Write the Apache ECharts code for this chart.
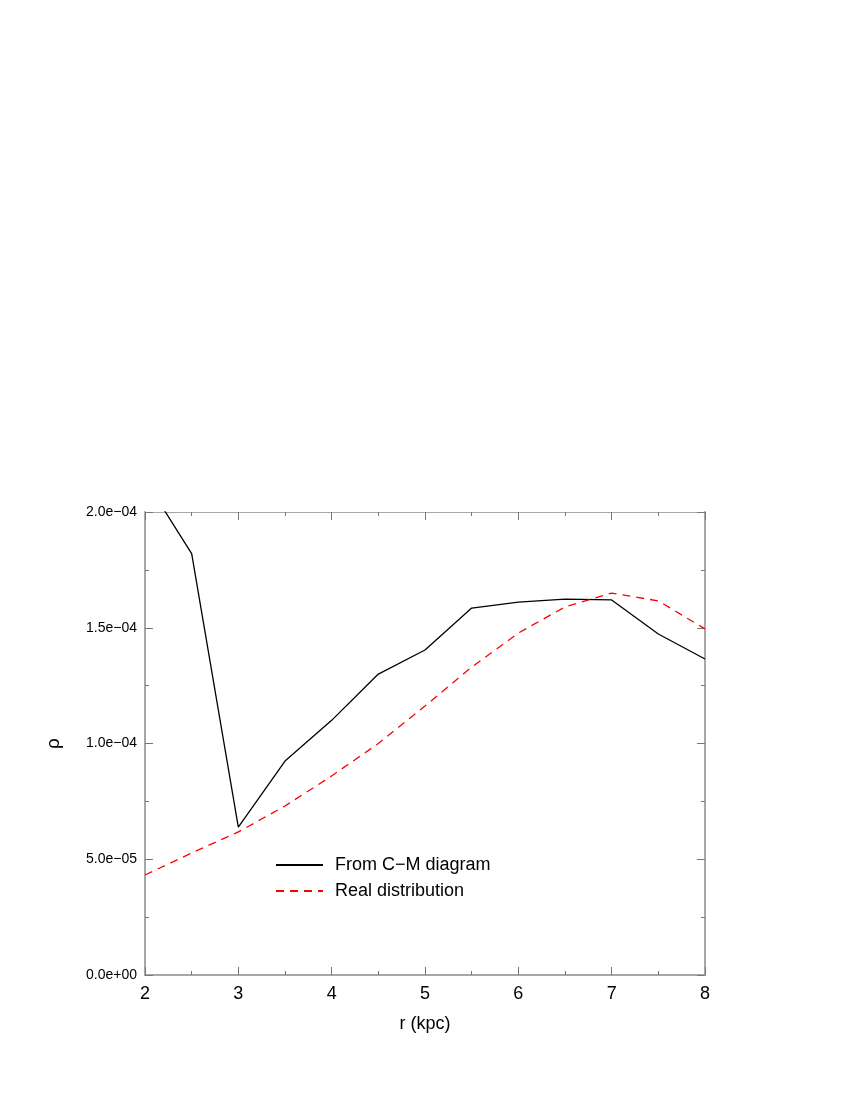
<!DOCTYPE html>
<html>
<head>
<meta charset="utf-8">
<script src="https://cdn.jsdelivr.net/npm/echarts@6/dist/echarts.min.js"></script>
<style>
  html, body { margin: 0; padding: 0; background: #fff; }
  #chart { width: 850px; height: 1100px; }
</style>
</head>
<body>
<div id="chart"></div>
<script>
// radius (kpc)
const radius = [2, 2.5, 3, 3.5, 4, 4.5, 5, 5.5, 6, 6.5, 7, 7.5, 8];
// density from the C-M diagram
const fromCM = [2.14e-4, 1.82e-4, 0.639e-4, 0.924e-4, 1.10e-4, 1.30e-4, 1.404e-4,
  1.585e-4, 1.611e-4, 1.624e-4, 1.62e-4, 1.473e-4, 1.365e-4];
// real distribution
const realDist = [0.432e-4, 0.527e-4, 0.618e-4, 0.73e-4, 0.86e-4, 1.0e-4, 1.162e-4,
  1.33e-4, 1.477e-4, 1.59e-4, 1.65e-4, 1.616e-4, 1.495e-4];

const chart = echarts.init(document.getElementById('chart'));

const font = 'Liberation Sans, Arial, sans-serif';
const axisGrey = '#a8a8a8';

const fmtExp = function (v) {
  let s = Number(v).toExponential(1);
  const m = s.match(/^(.*)e([+-])(\d+)$/);
  if (!m) return s;
  let exp = m[3].length < 2 ? '0' + m[3] : m[3];
  return m[1] + 'e' + (m[2] === '-' ? '\u2212' : '+') + exp;
};

const pairs = function (ys) {
  return radius.map(function (x, i) { return [x, ys[i]]; });
};

const option = {
  backgroundColor: '#fff',
  animation: false,
  textStyle: { fontFamily: font },
  grid: { left: 145, right: 145, top: 512, bottom: 125 },
  legend: {
    left: 270,
    top: 851,
    orient: 'vertical',
    itemWidth: 47,
    itemHeight: 14,
    itemGap: 8,
    itemStyle: { opacity: 0 },
    textStyle: { fontSize: 18, color: '#000', fontFamily: font, padding: [0, 0, 0, 7] },
    data: ['From C\u2212M diagram', 'Real distribution']
  },
  xAxis: [
    {
      type: 'value',
      min: 2, max: 8, interval: 1,
      name: 'r (kpc)',
      nameLocation: 'middle',
      nameGap: 40,
      nameTextStyle: { fontSize: 18, color: '#000', fontFamily: font },
      axisLine: { lineStyle: { color: axisGrey, width: 2 } },
      axisTick: { inside: true, length: 8, lineStyle: { color: '#777' } },
      minorTick: { show: true, splitNumber: 2, length: 4, lineStyle: { color: '#777' } },
      axisLabel: { fontSize: 18, color: '#000', margin: 10 },
      splitLine: { show: false }
    },
    {
      type: 'value',
      position: 'top',
      min: 2, max: 8, interval: 1,
      axisLine: { onZero: false, lineStyle: { color: axisGrey, width: 1 } },
      axisTick: { inside: true, length: 8, lineStyle: { color: '#777' } },
      minorTick: { show: true, splitNumber: 2, length: 4, lineStyle: { color: '#777' } },
      axisLabel: { show: false },
      splitLine: { show: false }
    }
  ],
  yAxis: [
    {
      type: 'value',
      min: 0, max: 2e-4, interval: 5e-5,
      name: '\u03c1',
      nameLocation: 'middle',
      nameGap: 82,
      nameRotate: 90,
      nameTextStyle: { fontSize: 19, color: '#000', fontFamily: font },
      axisLine: { lineStyle: { color: axisGrey, width: 2 } },
      axisTick: { inside: true, length: 8, lineStyle: { color: '#777' } },
      minorTick: { show: true, splitNumber: 2, length: 4, lineStyle: { color: '#777' } },
      axisLabel: { fontSize: 14, color: '#000', margin: 8, formatter: fmtExp },
      splitLine: { show: false }
    },
    {
      type: 'value',
      position: 'right',
      min: 0, max: 2e-4, interval: 5e-5,
      axisLine: { show: true, onZero: false, lineStyle: { color: axisGrey, width: 2 } },
      axisTick: { show: true, inside: true, length: 8, lineStyle: { color: '#777' } },
      minorTick: { show: true, splitNumber: 2, length: 4, lineStyle: { color: '#777' } },
      axisLabel: { show: false },
      splitLine: { show: false }
    }
  ],
  series: [
    {
      name: 'From C\u2212M diagram',
      type: 'line',
      data: pairs(fromCM),
      symbol: 'none',
      clip: true,
      lineStyle: { color: '#000', width: 1.3 },
      itemStyle: { color: '#000' }
    },
    {
      name: 'Real distribution',
      type: 'line',
      data: pairs(realDist),
      symbol: 'none',
      clip: true,
      lineStyle: { color: '#ff0000', width: 1.3, type: [8, 6] },
      itemStyle: { color: '#ff0000' }
    }
  ]
};

chart.setOption(option);
</script>
</body>
</html>
